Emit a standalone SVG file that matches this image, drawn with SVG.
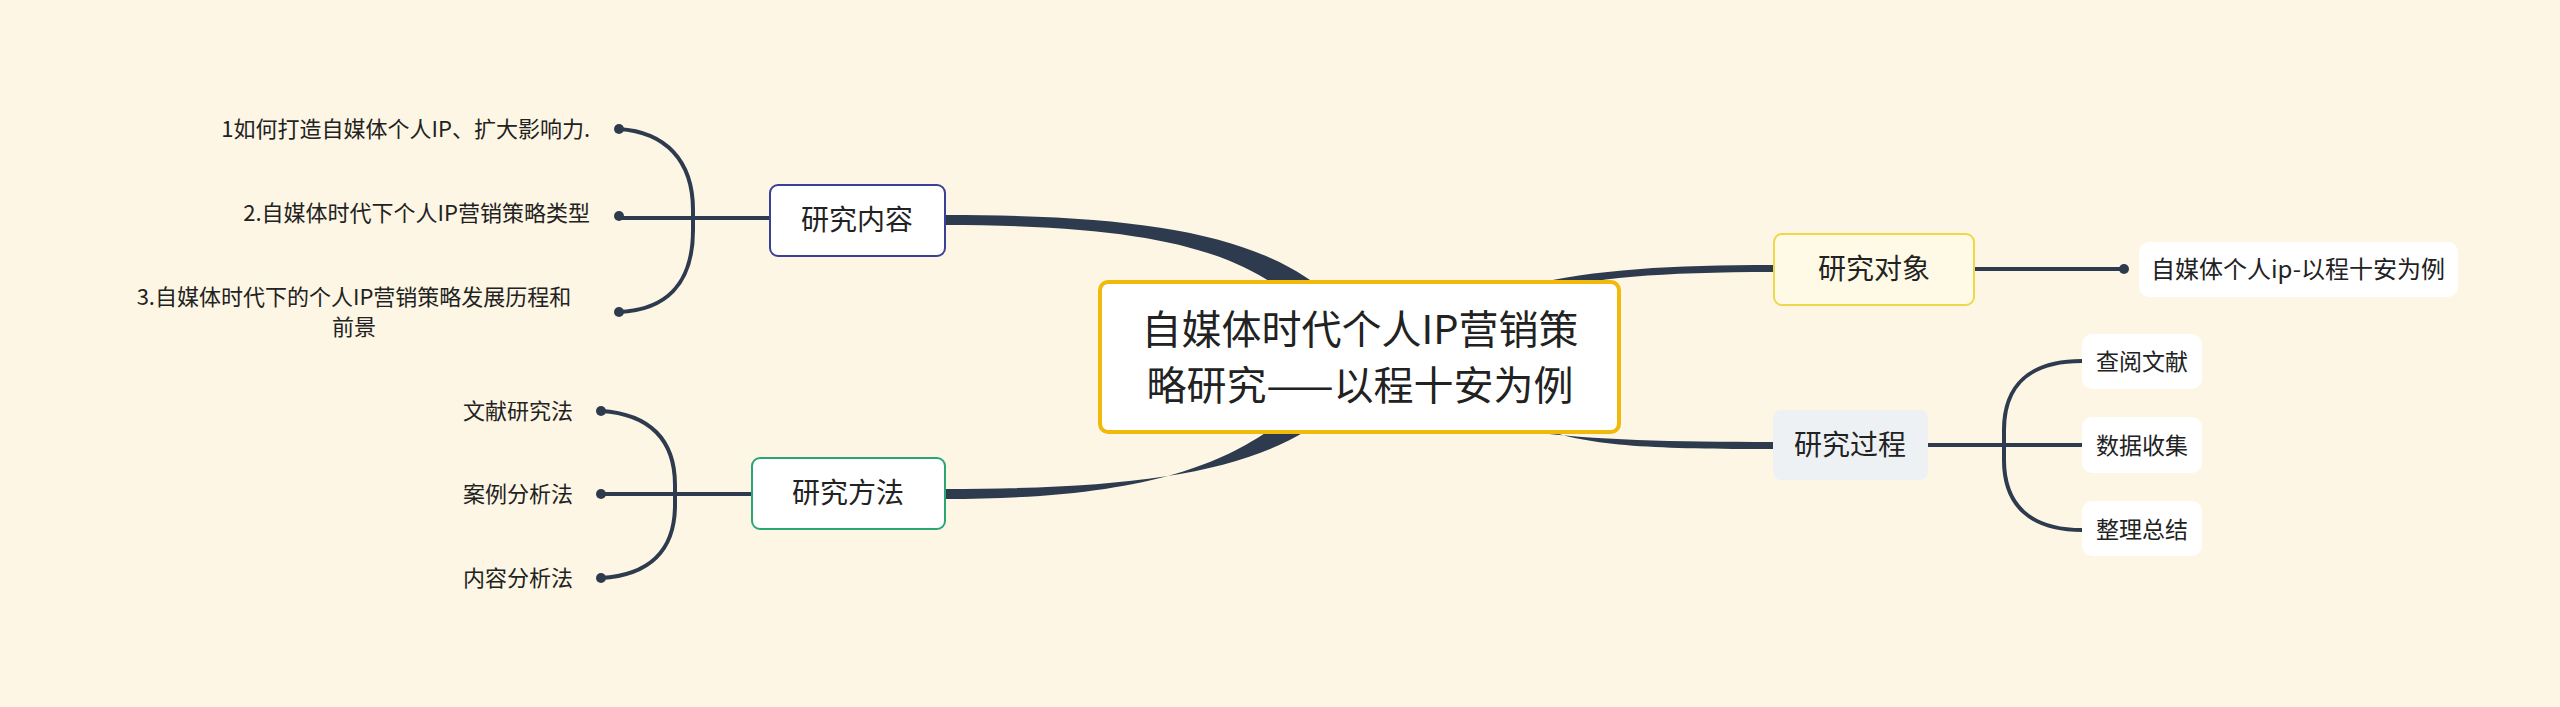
<svg xmlns="http://www.w3.org/2000/svg" width="2560" height="707" viewBox="0 0 2560 707">
<style>
.t{font-family:"Noto Sans CJK SC","Noto Sans",sans-serif;fill:#222}
.ln{fill:none;stroke:#2e3b4e;stroke-width:4}
.fl{fill:#2e3b4e}
</style>
<rect width="2560" height="707" fill="#fdf6e4"/>
<g id="connectors">
<path class="fl" d="M945,215 C1150,215 1265,235 1335,300 L1295,300 C1235,250 1150,225 945,225 Z"/>
<path class="fl" d="M945,489 C1150,489 1265,470 1335,410 L1295,410 C1235,462 1150,499 945,499 Z"/>
<path class="fl" d="M1500,292 C1580,270 1660,265 1773,265 L1773,272 C1660,272 1590,278 1540,292 Z"/>
<path class="fl" d="M1500,428 C1580,440 1660,442 1773,442 L1773,449 C1660,449 1590,447 1540,428 Z"/>
<path class="ln" d="M1974,269 H2124"/>
<circle class="fl" cx="2124" cy="269" r="5"/>
<path class="ln" d="M1928,445 H2082 M2082,361 C2030,361 2004,385 2004,430 L2004,460 C2004,505 2030,530 2082,530"/>
<path class="ln" d="M769,218 H619 M619,129 C665,132 693,160 693,210 L693,230 C693,285 665,310 619,312"/>
<circle class="fl" cx="619" cy="129" r="5"/><circle class="fl" cx="619" cy="216" r="5"/><circle class="fl" cx="619" cy="312" r="5"/>
<path class="ln" d="M751,494 H601 M601,411 C650,414 675,440 675,485 L675,505 C675,550 650,575 601,578"/>
<circle class="fl" cx="601" cy="411" r="5"/><circle class="fl" cx="601" cy="494" r="5"/><circle class="fl" cx="601" cy="578" r="5"/>
</g>
<g id="center">
<rect x="1100" y="282" width="519" height="150" rx="8" fill="#fff" stroke="#f0b90b" stroke-width="4"/>
<text class="t" x="1360" y="344" font-size="40" text-anchor="middle">自媒体时代个人IP营销策</text>
<text class="t" x="1360" y="400" font-size="40" text-anchor="middle">略研究——以程十安为例</text>
</g>
<g id="n-duixiang">
<rect x="1774" y="234" width="200" height="71" rx="8" fill="#fefae6" stroke="#ecd84a" stroke-width="2"/>
<text class="t" x="1874" y="279" font-size="28" text-anchor="middle">研究对象</text>
</g>
<g id="n-guocheng">
<rect x="1773" y="410" width="155" height="70" rx="8" fill="#eef1f4"/>
<text class="t" x="1850" y="455" font-size="28" text-anchor="middle">研究过程</text>
</g>
<g id="n-neirong">
<rect x="770" y="185" width="175" height="71" rx="8" fill="#fff" stroke="#3a3f97" stroke-width="2"/>
<text class="t" x="857" y="230" font-size="28" text-anchor="middle">研究内容</text>
</g>
<g id="n-fangfa">
<rect x="752" y="458" width="193" height="71" rx="8" fill="#fff" stroke="#2aa574" stroke-width="2"/>
<text class="t" x="848" y="503" font-size="28" text-anchor="middle">研究方法</text>
</g>
<g id="leaf-ip">
<rect x="2139" y="242" width="319" height="55" rx="10" fill="#fff"/>
<text class="t" x="2298" y="278" font-size="24" text-anchor="middle">自媒体个人ip-以程十安为例</text>
</g>
<g id="leaf-g1"><rect x="2082" y="334" width="120" height="55" rx="10" fill="#fff"/><text class="t" x="2142" y="370" font-size="23" text-anchor="middle">查阅文献</text></g>
<g id="leaf-g2"><rect x="2082" y="417" width="120" height="56" rx="10" fill="#fff"/><text class="t" x="2142" y="454" font-size="23" text-anchor="middle">数据收集</text></g>
<g id="leaf-g3"><rect x="2082" y="501" width="120" height="55" rx="10" fill="#fff"/><text class="t" x="2142" y="538" font-size="23" text-anchor="middle">整理总结</text></g>
<g id="leaf-n1"><text class="t" x="590" y="137" font-size="22" text-anchor="end">1如何打造自媒体个人IP、扩大影响力.</text></g>
<g id="leaf-n2"><text class="t" x="590" y="221" font-size="22" text-anchor="end">2.自媒体时代下个人IP营销策略类型</text></g>
<g id="leaf-n3"><text class="t" x="354" y="305" font-size="22" text-anchor="middle">3.自媒体时代下的个人IP营销策略发展历程和</text><text class="t" x="354" y="335" font-size="22" text-anchor="middle">前景</text></g>
<g id="leaf-f1"><text class="t" x="573" y="419" font-size="22" text-anchor="end">文献研究法</text></g>
<g id="leaf-f2"><text class="t" x="573" y="502" font-size="22" text-anchor="end">案例分析法</text></g>
<g id="leaf-f3"><text class="t" x="573" y="586" font-size="22" text-anchor="end">内容分析法</text></g>
</svg>
